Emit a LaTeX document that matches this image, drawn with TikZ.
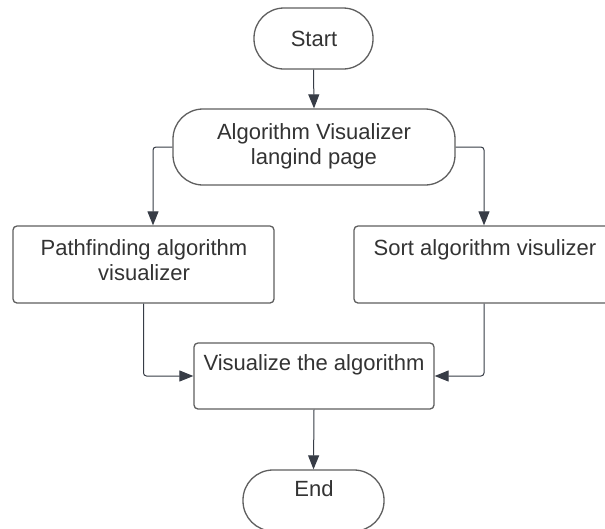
\documentclass[tikz,border=0pt]{standalone}
\usepackage{fontspec}
\setmainfont{Liberation Sans}
\usetikzlibrary{arrows.meta}
\definecolor{boxline}{RGB}{95,95,95}
\definecolor{conncol}{RGB}{55,60,70}
\definecolor{txtcol}{RGB}{51,51,51}
\begin{document}
\begin{tikzpicture}[x=1pt,y=-1pt,
  shapebox/.style={draw=boxline, line width=1.3pt, inner sep=0pt, fill=white},
  termbox/.style={shapebox, rounded corners=30pt},
  procbox/.style={shapebox, rounded corners=4pt},
  lbl/.style={text=txtcol, font=\fontsize{22}{25}\selectfont, align=center, inner sep=0pt},
  conn/.style={draw=conncol, line width=1pt, rounded corners=3pt, -{Triangle[length=14pt,width=11pt]}}
]
\clip (0,0) rectangle (605,528);
\fill[white] (0,0) rectangle (605,528);

% shapes
\node[termbox, minimum width=119pt, minimum height=61pt] (start) at (313.5,38.5) {};
\node[shapebox, rounded corners=30pt, minimum width=282pt, minimum height=76pt] (alg) at (314,147) {};
\node[procbox, minimum width=261pt, minimum height=77pt] (pf) at (143.5,264.5) {};
\node[procbox, minimum width=260pt, minimum height=77pt] (sort) at (484,264.5) {};
\node[procbox, minimum width=240pt, minimum height=66pt] (vis) at (314,376) {};
\node[termbox, minimum width=141pt, minimum height=61pt] (end) at (313.5,500.5) {};

% texts
\node[lbl, anchor=base] (startt) at (314,46) {Start};
\node[lbl] (algt) at (314,146) {Algorithm Visualizer\\langind page};
\node[lbl] (pft) at (144,260) {Pathfinding algorithm\\visualizer};
\node[lbl, anchor=base] (sortt) at (485,255) {Sort algorithm visulizer};
\node[lbl, anchor=base] (vist) at (314,370) {Visualize the algorithm};
\node[lbl, anchor=base] (endt) at (314,496) {End};

% connectors
\draw[conn] (start.south) -- (alg.north);
\draw[conn] (alg.west) -| ([xshift=9.5pt]pf.north);
\draw[conn] (alg.east) -| (sort.north);
\draw[conn] (pf.south) |- (vis.west);
\draw[conn] (sort.south) |- (vis.east);
\draw[conn] (vis.south) -- (end.north);
\end{tikzpicture}
\end{document}
